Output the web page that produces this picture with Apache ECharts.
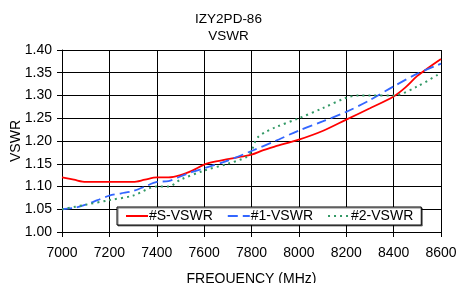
<!DOCTYPE html>
<html>
<head>
    <meta charset="utf-8">
    <title>VSWR</title>
    <script src="https://cdn.jsdelivr.net/npm/echarts@6/dist/echarts.min.js"></script>
</head>
<body style="margin:0">
<div id="main" style="width:457px;height:283px;"></div>
<script type="text/javascript">
    // frequency (MHz) and VSWR
    var freqS = [7000, 7050, 7100, 7200, 7300, 7350, 7400, 7450, 7500, 7550, 7600, 7650, 7700, 7750, 7800, 7850, 7900, 8000, 8100, 8200, 8300, 8400, 8450, 8500, 8550, 8600];
    var vswrS = [1.12, 1.115, 1.11, 1.11, 1.11, 1.115, 1.12, 1.12, 1.125, 1.135, 1.148, 1.155, 1.16, 1.165, 1.17, 1.18, 1.188, 1.203, 1.222, 1.247, 1.272, 1.298, 1.318, 1.343, 1.362, 1.38];

    var freq1 = [7000, 7050, 7100, 7150, 7200, 7250, 7300, 7350, 7400, 7450, 7500, 7550, 7600, 7700, 7800, 7900, 8000, 8100, 8200, 8300, 8400, 8500, 8600];
    var vswr1 = [1.05, 1.053, 1.06, 1.07, 1.08, 1.085, 1.09, 1.10, 1.11, 1.112, 1.122, 1.132, 1.14, 1.157, 1.178, 1.20, 1.223, 1.243, 1.264, 1.29, 1.32, 1.348, 1.37];

    var freq2 = [7000, 7100, 7200, 7300, 7400, 7450, 7500, 7600, 7700, 7780, 7800, 7815, 7830, 7860, 7900, 8000, 8100, 8200, 8250, 8300, 8400, 8500, 8600];
    var vswr2 = [1.05, 1.06, 1.07, 1.08, 1.10, 1.10, 1.115, 1.135, 1.15, 1.165, 1.178, 1.198, 1.21, 1.22, 1.23, 1.25, 1.272, 1.295, 1.30, 1.30, 1.30, 1.32, 1.35];

    var seriesNames = ['#S-VSWR', '#1-VSWR', '#2-VSWR'];

    function pairs(xs, ys) {
        var out = [];
        for (var i = 0; i < xs.length; i++) {
            out.push([xs[i], ys[i]]);
        }
        return out;
    }

    var font = 'Liberation Sans, Arial, sans-serif';

    var option = {
        animation: false,
        backgroundColor: '#fff',
        title: {
            text: 'IZY2PD-86\nVSWR',
            left: 'center',
            top: 6,
            textStyle: {
                fontFamily: font,
                fontSize: 13.5,
                fontWeight: 'normal',
                color: '#000',
                lineHeight: 17
            }
        },
        legend: {
            data: seriesNames,
            left: 117,
            top: 207,
            itemWidth: 22,
            itemHeight: 10,
            itemGap: 14,
            padding: [2, 8, 2, 8],
            backgroundColor: '#fff',
            borderColor: '#000',
            borderWidth: 1,
            shadowColor: 'rgba(0,0,0,0.5)',
            shadowOffsetX: 1,
            shadowOffsetY: 1,
            itemStyle: {opacity: 0},
            textStyle: {
                fontFamily: font,
                fontSize: 14,
                color: '#000',
                padding: [0, 0, 0, -4]
            }
        },
        grid: {
            left: 62,
            right: 16,
            top: 50,
            bottom: 51,
            outerBoundsMode: 'none'
        },
        xAxis: {
            type: 'value',
            min: 7000,
            max: 8600,
            interval: 200,
            name: 'FREQUENCY (MHz)',
            nameLocation: 'middle',
            nameGap: 40,
            nameMoveOverlap: false,
            nameTextStyle: {fontFamily: font, fontSize: 14, color: '#000'},
            axisLine: {show: true, lineStyle: {color: '#000'}},
            axisTick: {show: true, length: 5, lineStyle: {color: '#000'}},
            axisLabel: {
                fontFamily: font, fontSize: 14, color: '#000', margin: 14,
                formatter: function (v) { return String(v); }
            },
            splitLine: {show: true, lineStyle: {color: '#000', width: 1}}
        },
        yAxis: {
            type: 'value',
            min: 1.0,
            max: 1.4,
            interval: 0.05,
            name: 'VSWR',
            nameLocation: 'middle',
            nameGap: 39,
            nameMoveOverlap: false,
            nameTextStyle: {fontFamily: font, fontSize: 14, color: '#000'},
            axisLine: {show: true, lineStyle: {color: '#000'}},
            axisTick: {show: true, length: 5, lineStyle: {color: '#000'}},
            axisLabel: {
                fontFamily: font, fontSize: 14, color: '#000', margin: 10,
                formatter: function (v) { return v.toFixed(2); }
            },
            splitLine: {show: true, lineStyle: {color: '#000', width: 1}}
        },
        series: [{
            name: seriesNames[0],
            type: 'line',
            symbol: 'none',
            smooth: 0.3,
            color: '#ff0000',
            lineStyle: {width: 1.8, type: 'solid'},
            data: pairs(freqS, vswrS)
        }, {
            name: seriesNames[1],
            type: 'line',
            symbol: 'none',
            smooth: 0.3,
            color: '#3366ff',
            lineStyle: {width: 1.8, type: [10, 5]},
            data: pairs(freq1, vswr1)
        }, {
            name: seriesNames[2],
            type: 'line',
            symbol: 'none',
            smooth: 0.3,
            color: '#339966',
            lineStyle: {width: 2, type: [2, 4]},
            data: pairs(freq2, vswr2)
        }]
    };

    var myChart = echarts.init(document.getElementById('main'));
    myChart.setOption(option);
</script>
</body>
</html>
